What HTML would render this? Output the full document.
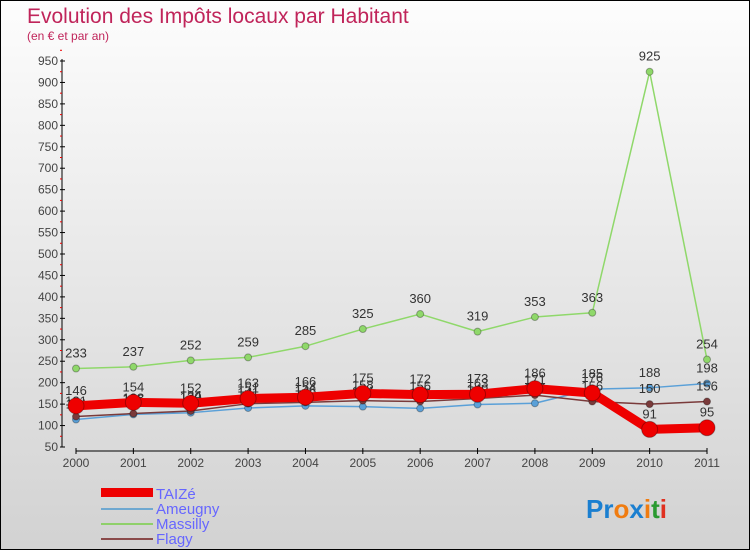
<!DOCTYPE html>
<html><head><meta charset="utf-8"><style>
body{margin:0}
#wrap{width:750px;height:550px;position:relative;overflow:hidden;border:1px solid #000;box-sizing:border-box;background:linear-gradient(#fdfdfd,#d2d2d2);font-family:"Liberation Sans",sans-serif}
</style></head><body>
<div id="wrap">
<svg id="svg" width="750" height="550">
<text x="26" y="22" font-size="21" fill="#c0245a">Evolution des Impôts locaux par Habitant</text>
<text x="26" y="39" font-size="12" fill="#c0245a">(en € et par an)</text>
<g id="axes"></g><g id="series"></g>
<g>
<rect x="100" y="487" width="52" height="9" fill="#e00"/>
<text x="155" y="498" font-size="15" fill="#6666ff">TAIZé</text>
<line x1="100" y1="508" x2="152" y2="508" stroke="#6fa8d0" stroke-width="2"/>
<text x="155" y="513" font-size="15" fill="#6666ff">Ameugny</text>
<line x1="100" y1="523" x2="152" y2="523" stroke="#8fd06a" stroke-width="2"/>
<text x="155" y="528" font-size="15" fill="#6666ff">Massilly</text>
<line x1="100" y1="538" x2="152" y2="538" stroke="#8a4a4a" stroke-width="2"/>
<text x="155" y="543" font-size="15" fill="#6666ff">Flagy</text>
</g>
<text x="585" y="517" font-size="26" font-weight="bold"><tspan fill="#1b7fd0">Pr</tspan><tspan fill="#f07c10">o</tspan><tspan fill="#1b7fd0">x</tspan><tspan fill="#f07c10">i</tspan><tspan fill="#2a9a30">t</tspan><tspan fill="#e03020">i</tspan></text>
</svg>
</div>
<script>
const years=[2000,2001,2002,2003,2004,2005,2006,2007,2008,2009,2010,2011];
const taize=[146,154,152,163,166,175,172,173,186,176,91,95];
const ameugny=[114,126,130,141,146,144,140,149,152,185,188,198];
const massilly=[233,237,252,259,285,325,360,319,353,363,925,254];
const flagy=[121,128,134,151,154,158,156,163,171,156,150,156];
const yTicks=[50,100,150,200,250,300,350,400,450,500,550,600,650,700,750,800,850,900,950];
const NS="http://www.w3.org/2000/svg";
const x=i=>75+i*(706-75)/11;
const y=v=>446-(v-50)*(446-60)/900;
function mk(tag,attrs,parent){const e=document.createElementNS(NS,tag);for(const k in attrs)e.setAttribute(k,attrs[k]);parent.appendChild(e);return e;}
const ax=document.getElementById('axes'),sg=document.getElementById('series');
let yl=mk('line',{x1:61,y1:58,x2:61,y2:446,stroke:'#000'},ax);


let xl=mk('line',{x1:75,y1:450,x2:706,y2:450,stroke:'#000'},ax);


yTicks.forEach(v=>{
 mk('line',{x1:59,x2:64,y1:y(v),y2:y(v),stroke:'#000'},ax);
 mk('line',{x1:59,x2:61,y1:y(v+25),y2:y(v+25),stroke:'#e00'},ax);
 const t=mk('text',{x:57,y:y(v)+4,'font-size':12,'text-anchor':'end',fill:'#444'},ax);t.textContent=v;
 
 
});
years.forEach((yr,i)=>{
 mk('line',{x1:x(i),x2:x(i),y1:447,y2:453,stroke:'#000'},ax);
 const t=mk('text',{x:x(i),y:466,'font-size':12,'text-anchor':'middle',fill:'#444'},ax);t.textContent=yr;
 
 
});
function series(data,color,w,r,name){
 const g=mk('g',{},sg);
 
 
 mk('polyline',{points:data.map((v,i)=>x(i)+','+y(v)).join(' '),fill:'none',stroke:color,'stroke-width':w,'stroke-linejoin':'round'},g);
 data.forEach((v,i)=>{
  const c=mk('circle',{cx:x(i),cy:y(v),r:r,fill:color,stroke:'rgba(0,0,0,0.3)'},g);
  
  
  const t=mk('text',{x:x(i),y:y(v)-11,'font-size':13,'text-anchor':'middle',fill:'#333'},g);t.textContent=v;
 });
}
series(massilly,'#8fd86a',1.5,3.5,'massilly');
series(ameugny,'#5aa0d8',1.5,3.5,'ameugny');
series(flagy,'#7a3a3a',1.5,3.5,'flagy');
series(taize,'#ee0000',9,8,'taize');
</script>
</body></html>
